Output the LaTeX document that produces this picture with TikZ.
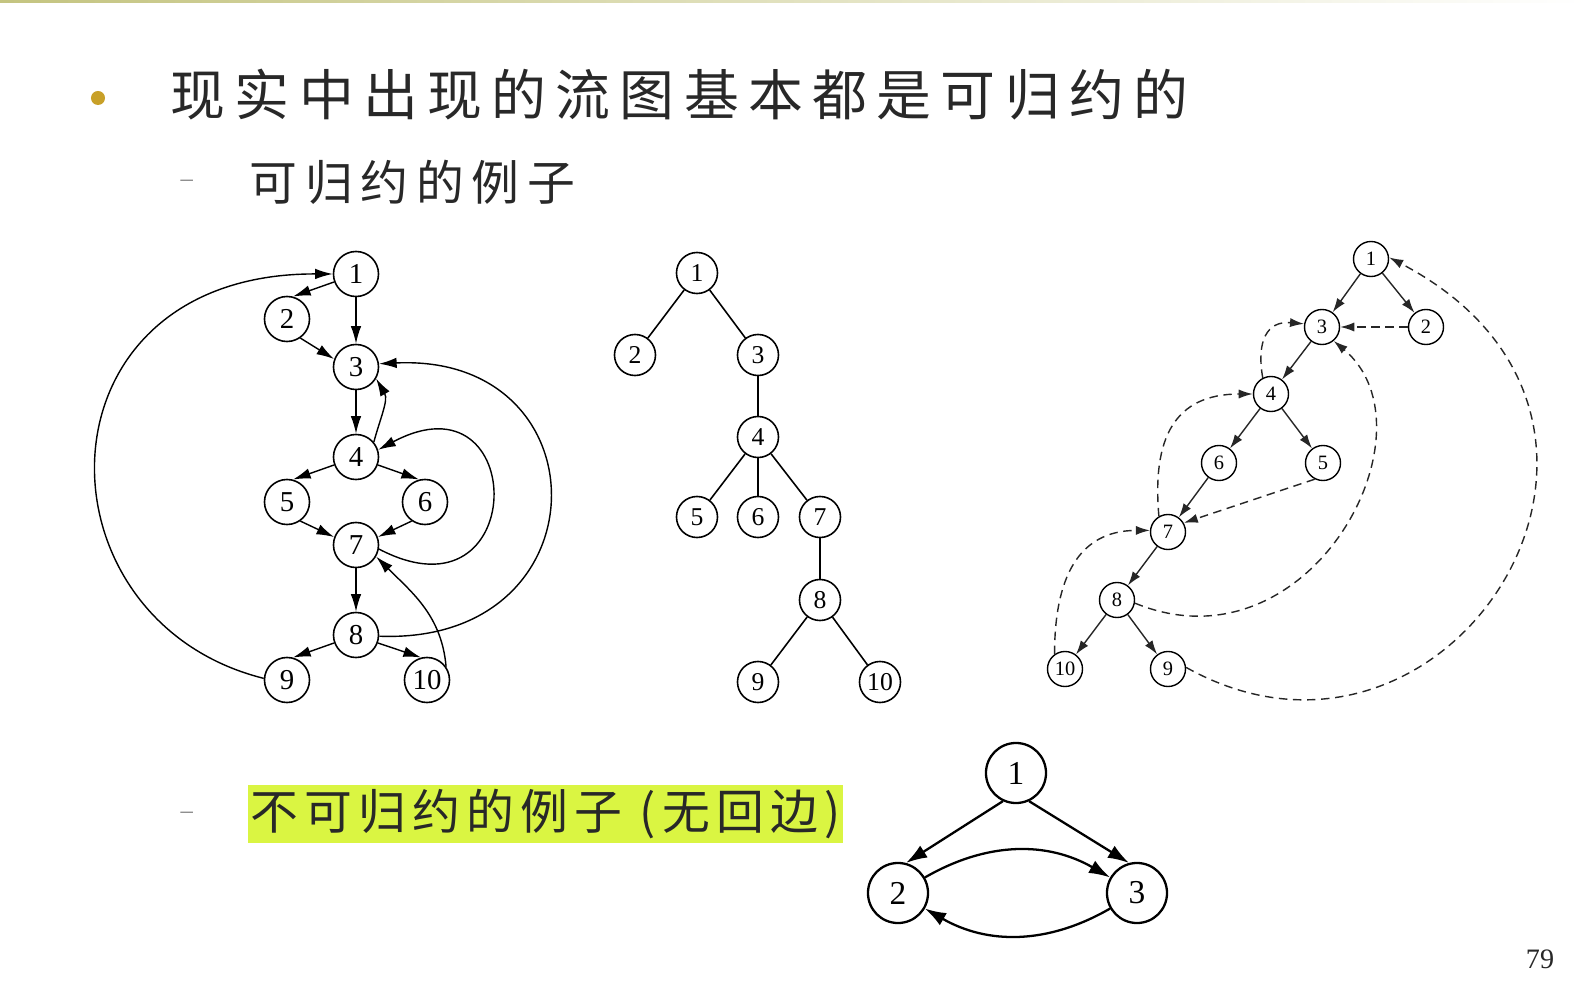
\documentclass[tikz,border=0pt]{standalone}
\usepackage{fontspec}
\setmainfont{Liberation Serif}
\newfontfamily\titlefont[LetterSpace=17]{Noto Sans CJK SC}
\newfontfamily\itemfont[LetterSpace=16]{Noto Sans CJK SC}
\newfontfamily\hlfont[LetterSpace=13]{Noto Sans CJK SC}
\usepackage{xcolor}
\usetikzlibrary{arrows.meta}

\definecolor{bulletgold}{RGB}{200,160,40}
\definecolor{hlgreen}{RGB}{218,245,66}
\definecolor{textgray}{RGB}{40,40,40}
\definecolor{topolive}{RGB}{196,196,128}

\begin{document}
\begin{tikzpicture}[x=0.01cm, y=0.01cm,
        gnode/.style={draw, circle, line width=0.45pt, minimum size=0.45cm, inner sep=0pt, font=\fontsize{8.2}{8}\selectfont},
        tnode/.style={gnode, minimum size=0.41cm, font=\fontsize{7.3}{7}\selectfont},
        dnode/.style={gnode, line width=0.4pt, minimum size=0.35cm, font=\fontsize{5.8}{6}\selectfont},
        bnode/.style={draw, circle, line width=0.65pt, minimum size=0.6cm, inner sep=0pt, font=\fontsize{9.5}{10}\selectfont},
        flow/.style={-{Latex[length=5pt,width=3pt]}, line width=0.4pt},
        tline/.style={line width=0.45pt},
        dflow/.style={-{Latex[length=4pt,width=2.6pt]}, line width=0.4pt, draw=black!85},
        dback/.style={dflow, dash pattern=on 2.4pt off 1.6pt},
        bflow/.style={-{Latex[length=6pt,width=4pt]}, line width=0.65pt}]

        \useasboundingbox (0,0) rectangle (1587,-985);

        % top rule
        \shade[left color=topolive, right color=white] (0,0) rectangle (1587,-3);

        % Heading
        \node[circle, fill=bulletgold, minimum size=0.14cm, inner sep=0pt] (bullet) at (98,-98) {};
        \node[anchor=west, inner sep=0pt, text=textgray, font=\titlefont\fontsize{15.6}{18}\selectfont] (title) at (170,-95) {现实中出现的流图基本都是可归约的};

        \node[anchor=west, inner sep=0pt, text=gray, font=\fontsize{7}{8}\selectfont] (dash1) at (180,-183) {–};
        \node[anchor=west, inner sep=0pt, text=textgray, font=\itemfont\fontsize{13.6}{16}\selectfont] (sub1) at (249,-182) {可归约的例子};

        \node[anchor=west, inner sep=0pt, text=gray, font=\fontsize{7}{8}\selectfont] (dash2) at (180,-815) {–};
        \node[anchor=west, fill=hlgreen, inner xsep=0.03cm, inner ysep=0pt, minimum height=0.58cm, text=textgray, font=\hlfont\fontsize{13.6}{16}\selectfont] (sub2) at (247,-814) {不可归约的例子 (无回边)};

        \node[text=textgray, font=\fontsize{8}{8}\selectfont] (pageno) at (1540,-959) {79};

        % Flow graph
        \node[gnode] (f1) at (356,-274) {1};
        \node[gnode] (f2) at (287,-319) {2};
        \node[gnode] (f3) at (356,-367) {3};
        \node[gnode] (f4) at (356,-457) {4};
        \node[gnode] (f5) at (287,-502) {5};
        \node[gnode] (f6) at (425,-502) {6};
        \node[gnode] (f7) at (356,-545) {7};
        \node[gnode] (f8) at (356,-635) {8};
        \node[gnode] (f9) at (287,-680) {9};
        \node[gnode] (f10) at (427,-680) {10};

        \draw[flow] (f1.200) -- (f2.75);
        \draw[flow] (f1) -- (f3);
        \draw[flow] (f2.-55) -- (f3.160);
        \draw[flow] (f3) -- (f4);
        \draw[flow] (f4.200) -- (f5.75);
        \draw[flow] (f4.-20) -- (f6.105);
        \draw[flow] (f5.-55) -- (f7.160);
        \draw[flow] (f6.235) -- (f7.20);
        \draw[flow] (f7) -- (f8);
        \draw[flow] (f8.200) -- (f9.75);
        \draw[flow] (f8.-20) -- (f10.105);
        \draw[flow] (f4.40) to[out=75,in=-60] (f3.-30);
        \draw[flow] (f10.35) to[out=95,in=-45] (f7.-30);
        \draw[flow] (f7.-10) .. controls (530,-628) and (530,-369) .. (f4.18);
        \draw[flow] (f8.-3) .. controls (606,-645) and (606,-353) .. (f3.8);
        \draw[flow] (f9.176) .. controls (30,-620) and (30,-273) .. (f1.180);

        % Dominator tree
        \node[tnode] (t1) at (697,-273) {1};
        \node[tnode] (t2) at (635,-355) {2};
        \node[tnode] (t3) at (758,-355) {3};
        \node[tnode] (t4) at (758,-437) {4};
        \node[tnode] (t5) at (697,-517) {5};
        \node[tnode] (t6) at (758,-517) {6};
        \node[tnode] (t7) at (820,-517) {7};
        \node[tnode] (t8) at (820,-600) {8};
        \node[tnode] (t9) at (758,-682) {9};
        \node[tnode] (t10) at (880,-682) {10};

        \draw[tline] (t1) -- (t2);
        \draw[tline] (t1) -- (t3);
        \draw[tline] (t3) -- (t4);
        \draw[tline] (t4) -- (t5);
        \draw[tline] (t4) -- (t6);
        \draw[tline] (t4) -- (t7);
        \draw[tline] (t7) -- (t8);
        \draw[tline] (t8) -- (t9);
        \draw[tline] (t8) -- (t10);

        % Depth-first spanning tree
        \node[dnode] (d1) at (1371,-259) {1};
        \node[dnode] (d3) at (1322,-327) {3};
        \node[dnode] (d2) at (1426,-327) {2};
        \node[dnode] (d4) at (1271,-394) {4};
        \node[dnode] (d6) at (1219,-463) {6};
        \node[dnode] (d5) at (1323,-463) {5};
        \node[dnode] (d7) at (1168,-532) {7};
        \node[dnode] (d8) at (1117,-600) {8};
        \node[dnode] (d10) at (1065,-669) {10};
        \node[dnode] (d9) at (1168,-669) {9};

        \draw[dflow] (d1) -- (d3);
        \draw[dflow] (d1) -- (d2);
        \draw[dflow] (d3) -- (d4);
        \draw[dflow] (d4) -- (d6);
        \draw[dflow] (d4) -- (d5);
        \draw[dflow] (d6) -- (d7);
        \draw[dflow] (d7) -- (d8);
        \draw[dflow] (d8) -- (d10);
        \draw[dflow] (d8) -- (d9);

        \draw[dback] (d2) -- (d3);
        \draw[dback] (d4.117) to[out=100,in=175,looseness=1.4] (d3.170);
        \draw[dback] (d7.120) to[out=95,in=180,looseness=1.3] (d4.180);
        \draw[dback] (d5.243) -- (d7.30);
        \draw[dback] (d10.125) to[out=90,in=180,looseness=1.2] (d7.175);
        \draw[dback] (d8.-10) .. controls (1310,-675) and (1440,-430) .. (d3.-50);
        \draw[dback] (d9.5) .. controls (1450,-815) and (1700,-420) .. (d1.5);

        % Irreducible example
        \node[bnode] (b1) at (1016,-773) {1};
        \node[bnode] (b2) at (898,-893) {2};
        \node[bnode] (b3) at (1137,-893) {3};

        \draw[bflow] (b1.245) -- (b2.75);
        \draw[bflow] (b1.-65) -- (b3.105);
        \draw[bflow] (b2.30) to[bend left=30] (b3.150);
        \draw[bflow] (b3.210) to[bend left=30] (b2.330);

    \end{tikzpicture}
\end{document}
